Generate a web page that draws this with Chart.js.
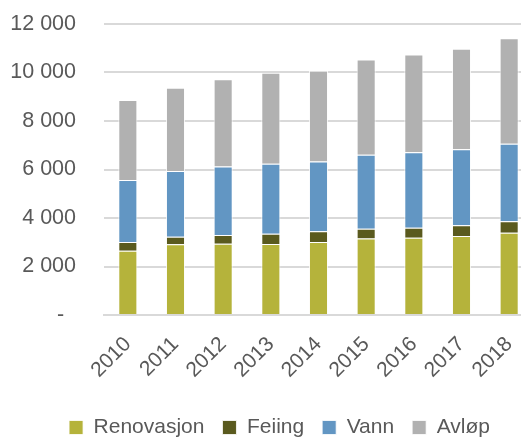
<!DOCTYPE html>
<html>
<head>
<meta charset="utf-8">
<script src="https://cdn.jsdelivr.net/npm/chart.js@4"></script>
<style>
    html, body { margin: 0; padding: 0; background: #fff; overflow: hidden; }
    #wrap { width: 560px; height: 448px; }
</style>
</head>
<body>
<div id="wrap"><canvas id="myChart" width="560" height="448"></canvas></div>
<script>
/* global Chart */
var years = ['2010', '2011', '2012', '2013', '2014', '2015', '2016', '2017', '2018'];
var renovasjon = [2650, 2915, 2940, 2930, 3010, 3150, 3190, 3260, 3395];
var feiing = [360, 315, 360, 425, 440, 410, 410, 440, 470];
var vann = [2560, 2710, 2820, 2885, 2875, 3050, 3110, 3130, 3200];
var avlop = [3300, 3435, 3600, 3750, 3750, 3930, 4030, 4150, 4345];
var yTicks = [0, 2000, 4000, 6000, 8000, 10000, 12000];

var textColor = '#595959';
var fontName = '"Liberation Sans", Arial, sans-serif';

function fmt(v) {
    if (v === 0) return '-  ';
    var s = String(v);
    return s.replace(/\B(?=(\d{3})+(?!\d))/g, ' ');
}

var ctx = document.getElementById('myChart').getContext('2d');
var myChart = new Chart(ctx, {
    type: 'bar',
    data: {
        labels: years,
        datasets: [{
            label: 'Renovasjon',
            data: renovasjon,
            backgroundColor: '#B5B33B'
        }, {
            label: 'Feiing',
            data: feiing,
            backgroundColor: '#5A5A1E'
        }, {
            label: 'Vann',
            data: vann,
            backgroundColor: '#6296C3'
        }, {
            label: 'Avløp',
            data: avlop,
            backgroundColor: '#B1B1B1'
        }]
    },
    options: {
        responsive: false,
        animation: false,
        layout: { padding: { left: 26, right: 27, top: 24, bottom: 0 } },
        datasets: {
            bar: {
                categoryPercentage: 1,
                barPercentage: 0.4,
                borderColor: 'rgba(255,255,255,0.8)',
                borderWidth: 1
            }
        },
        plugins: {
            legend: {
                position: 'bottom',
                labels: {
                    color: textColor,
                    font: { family: fontName, size: 21 },
                    boxWidth: 14,
                    boxHeight: 14,
                    padding: 18
                }
            },
            tooltip: { enabled: false }
        },
        scales: {
            x: {
                stacked: true,
                grid: { display: false, drawTicks: false },
                border: { color: '#D9D9D9', width: 2 },
                ticks: {
                    color: textColor,
                    font: { family: fontName, size: 21 },
                    maxRotation: 45,
                    minRotation: 45,
                    padding: 17
                },
                afterFit: function(scale) {
                    scale.paddingLeft = 0;
                    scale.paddingRight = 0;
                    scale.height = 84;
                }
            },
            y: {
                stacked: true,
                min: 0,
                max: 12000,
                afterBuildTicks: function(axis) {
                    axis.ticks = yTicks.map(function(v) { return { value: v }; });
                },
                grid: { color: '#D9D9D9', lineWidth: 2, drawTicks: false },
                border: { display: false },
                ticks: {
                    color: textColor,
                    font: { family: fontName, size: 21.5 },
                    padding: 28,
                    callback: function(v) { return fmt(v); }
                },
                afterFit: function(scale) {
                    scale.paddingTop = 0;
                    scale.paddingBottom = 0;
                    scale.width = 78;
                    // labels hang out past the scale box, so don't clip them
                    scale._computeLabelArea = function() { return undefined; };
                }
            }
        }
    }
});
</script>
</body>
</html>
